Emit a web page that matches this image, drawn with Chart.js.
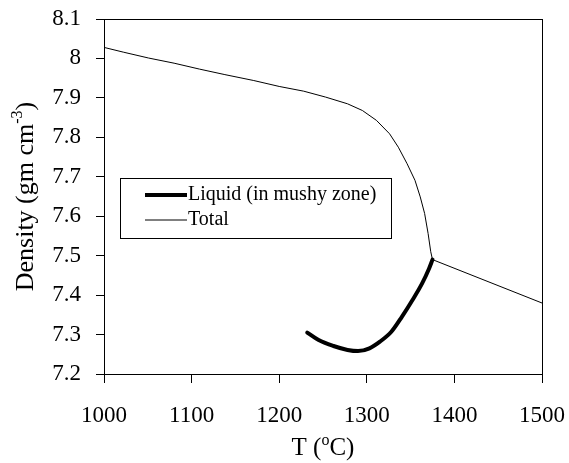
<!DOCTYPE html>
<html>
<head>
<meta charset="utf-8">
<script src="https://cdn.jsdelivr.net/npm/chart.js@4/dist/chart.umd.min.js"></script>
<style>
html,body{margin:0;padding:0;background:#fff;}
#wrap{width:569px;height:463px;position:relative;}
</style>
</head>
<body>
<div id="wrap"><canvas id="c" width="569" height="463"></canvas></div>
<script>
// Total density curve
const totalT = [1000,1022,1051,1080,1109,1138,1171,1200,1228,1253,1278,1295,1311,1326,1336,1346,1355,1361,1366,1370,1373,1375,1500];
const totalD = [8.028,8.016,8.001,7.988,7.973,7.959,7.944,7.929,7.917,7.902,7.885,7.868,7.843,7.809,7.775,7.733,7.691,7.649,7.607,7.556,7.510,7.490,7.380];
// Liquid (in mushy zone)
const liquidT = [1232,1245,1262,1278,1290,1303,1315,1328,1340,1352,1363,1371,1375];
const liquidD = [7.305,7.286,7.271,7.261,7.258,7.265,7.282,7.307,7.345,7.387,7.429,7.467,7.490];
// Axis ticks
const xTicks = [1000,1100,1200,1300,1400,1500];
const yTicks = [7.2,7.3,7.4,7.5,7.6,7.7,7.8,7.9,8,8.1];
const seriesNames = ['Liquid (in mushy zone)','Total'];

const FONT = '"Liberation Serif","Times New Roman",serif';

const toPts = (xs, ys) => xs.map((x,i)=>({x:x,y:ys[i]}));

const decor = {
  id:'decor',
  afterDraw(chart){
    const ctx = chart.ctx, a = chart.chartArea;
    ctx.save();
    // frame
    ctx.strokeStyle = '#000'; ctx.lineWidth = 1;
    ctx.strokeRect(Math.round(a.left)+0.5, Math.round(a.top)+0.5, Math.round(a.right-a.left), Math.round(a.bottom-a.top));
    // legend
    const lx = 120, ly = 178, lw = 271, lh = 60;
    ctx.fillStyle = '#fff';
    ctx.fillRect(lx, ly, lw, lh);
    ctx.strokeRect(lx+0.5, ly+0.5, lw, lh);
    const rows = [195, 220];
    chart.data.datasets.forEach((ds, i) => {
      const y = rows[i];
      ctx.strokeStyle = ds.borderColor;
      ctx.lineWidth = ds.borderWidth;
      ctx.lineCap = 'butt';
      ctx.beginPath(); ctx.moveTo(145, y); ctx.lineTo(187, y); ctx.stroke();
      ctx.fillStyle = '#000';
      ctx.font = '20px ' + FONT;
      ctx.textBaseline = 'middle';
      ctx.textAlign = 'left';
      ctx.fillText(ds.label, 188, y);
    });
    // x title: T (°C) with superscript o
    ctx.fillStyle = '#000';
    ctx.textBaseline = 'alphabetic';
    ctx.textAlign = 'left';
    const big = '25px ' + FONT, small = '16px ' + FONT;
    const p1 = 'T (', p2 = 'o', p3 = 'C)';
    ctx.font = big; const w1 = ctx.measureText(p1).width, w3 = ctx.measureText(p3).width;
    ctx.font = small; const w2 = ctx.measureText(p2).width;
    const total = w1 + w2 + w3;
    let x0 = (a.left + a.right)/2 - total/2;
    const by = 455;
    ctx.font = big; ctx.fillText(p1, x0, by);
    ctx.font = small; ctx.fillText(p2, x0 + w1, by - 10);
    ctx.font = big; ctx.fillText(p3, x0 + w1 + w2, by);
    // y title: Density (gm cm^-3)
    ctx.save();
    ctx.translate(33, (a.top + a.bottom)/2);
    ctx.rotate(-Math.PI/2);
    const q1 = 'Density (gm cm', q2 = '-3', q3 = ')';
    const bigY = '26px ' + FONT;
    ctx.font = bigY; const v1 = ctx.measureText(q1).width, v3 = ctx.measureText(q3).width;
    ctx.font = small; const v2 = ctx.measureText(q2).width;
    const tv = v1 + v2 + v3;
    let s0 = -tv/2;
    ctx.font = bigY; ctx.fillText(q1, s0, 0);
    ctx.font = small; ctx.fillText(q2, s0 + v1, -11);
    ctx.font = bigY; ctx.fillText(q3, s0 + v1 + v2, 0);
    ctx.restore();
    ctx.restore();
  }
};

new Chart(document.getElementById('c'), {
  type: 'scatter',
  data: {
    datasets: [
      { label: seriesNames[0], data: toPts(liquidT, liquidD), showLine: true, borderColor: '#000', borderWidth: 4, pointRadius: 0, cubicInterpolationMode: 'monotone', borderCapStyle: 'round' },
      { label: seriesNames[1], data: toPts(totalT, totalD), showLine: true, borderColor: '#000', borderWidth: 1, pointRadius: 0, tension: 0 }
    ]
  },
  options: {
    responsive: false,
    animation: false,
    devicePixelRatio: 1,
    layout: { padding: { left: 0, right: 27, top: 19, bottom: 0 } },
    plugins: { legend: { display: false }, tooltip: { enabled: false } },
    scales: {
      x: {
        type: 'linear', min: 1000, max: 1500,
        afterBuildTicks(s){ s.ticks = xTicks.map(v=>({value:v})); },
        afterFit(s){ s.height = 89; s.paddingLeft = 0; s.paddingRight = 0; },
        grid: { display: true, drawOnChartArea: false, drawTicks: true, tickLength: 9, color: '#000', lineWidth: 1 },
        border: { display: true, color: '#000', width: 1 },
        ticks: { color: '#000', font: { family: FONT, size: 23 }, padding: 19, maxRotation: 0, autoSkip: false,
                 callback: v => String(v) }
      },
      y: {
        type: 'linear', min: 7.2, max: 8.1,
        afterBuildTicks(s){ s.ticks = yTicks.map(v=>({value:v})); },
        afterFit(s){ s.width = 104; s.paddingTop = 0; s.paddingBottom = 0; },
        grid: { display: true, drawOnChartArea: false, drawTicks: true, tickLength: 8, color: '#000', lineWidth: 1 },
        border: { display: true, color: '#000', width: 1 },
        ticks: { color: '#000', font: { family: FONT, size: 23 }, padding: 15, autoSkip: false,
                 callback: v => String(Math.round(v*10)/10) }
      }
    }
  },
  plugins: [decor]
});
</script>
</body>
</html>
